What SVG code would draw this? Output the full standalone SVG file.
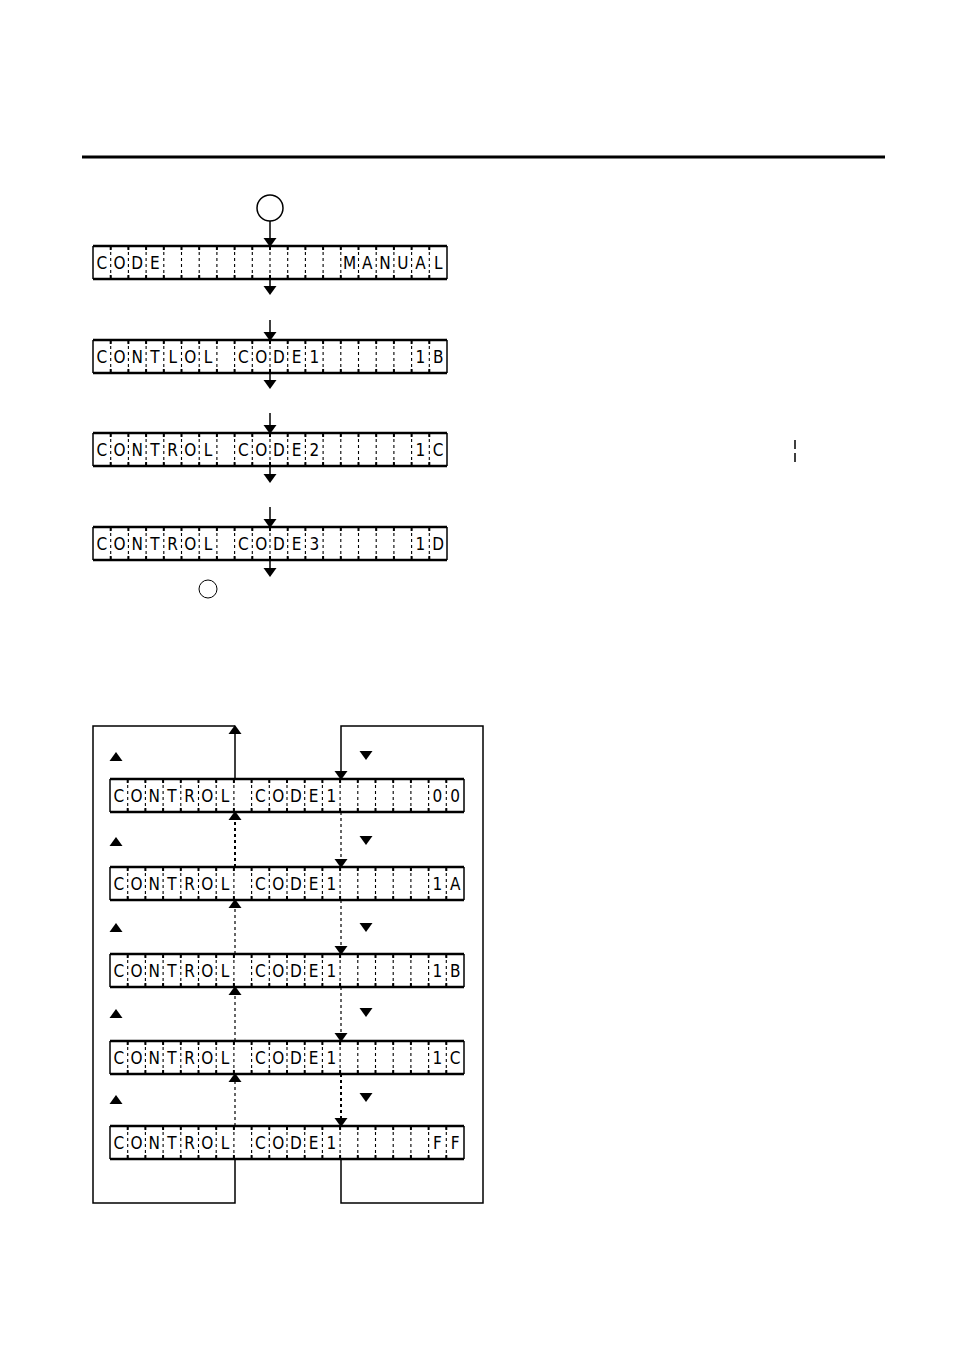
<svg xmlns="http://www.w3.org/2000/svg" width="954" height="1348" viewBox="0 0 954 1348">
<style>
.bx{fill:#fff;stroke:none}
.hb{stroke:#000;stroke-width:2.5}
.vb{stroke:#000;stroke-width:1.5}
.dv{stroke:#000;stroke-width:1.1;stroke-dasharray:3 3}
.tk{stroke:#000;stroke-width:2}
.ch{font-family:"Liberation Sans Narrow","DejaVu Sans Condensed","Liberation Sans",Arial,sans-serif;font-stretch:condensed;font-size:17px;text-anchor:middle;fill:#000}
.ln{stroke:#000;stroke-width:1.5;fill:none}
.ds{stroke:#000;stroke-width:1.2;stroke-dasharray:3 3;fill:none}
.dsb{stroke:#000;stroke-width:2;stroke-dasharray:3 3;fill:none}
.tri{fill:#000}
</style>
<defs>
<g id="grid">
<rect class="bx" x="0" y="0" width="354" height="33"/>
<g class="dv">
<line x1="17.7" y1="0" x2="17.7" y2="33"/><line x1="35.4" y1="0" x2="35.4" y2="33"/><line x1="53.1" y1="0" x2="53.1" y2="33"/><line x1="70.8" y1="0" x2="70.8" y2="33"/><line x1="88.5" y1="0" x2="88.5" y2="33"/><line x1="106.2" y1="0" x2="106.2" y2="33"/><line x1="123.9" y1="0" x2="123.9" y2="33"/><line x1="141.6" y1="0" x2="141.6" y2="33"/><line x1="159.3" y1="0" x2="159.3" y2="33"/><line x1="177" y1="0" x2="177" y2="33"/><line x1="194.7" y1="0" x2="194.7" y2="33"/><line x1="212.4" y1="0" x2="212.4" y2="33"/><line x1="230.1" y1="0" x2="230.1" y2="33"/><line x1="247.8" y1="0" x2="247.8" y2="33"/><line x1="265.5" y1="0" x2="265.5" y2="33"/><line x1="283.2" y1="0" x2="283.2" y2="33"/><line x1="300.9" y1="0" x2="300.9" y2="33"/><line x1="318.6" y1="0" x2="318.6" y2="33"/><line x1="336.3" y1="0" x2="336.3" y2="33"/>
</g>
<path class="tk" d="M17.7 0v4M35.4 0v4M53.1 0v4M70.8 0v4M88.5 0v4M106.2 0v4M123.9 0v4M141.6 0v4M159.3 0v4M177 0v4M194.7 0v4M212.4 0v4M230.1 0v4M247.8 0v4M265.5 0v4M283.2 0v4M300.9 0v4M318.6 0v4M336.3 0v4M17.7 33v-4M35.4 33v-4M53.1 33v-4M70.8 33v-4M88.5 33v-4M106.2 33v-4M123.9 33v-4M141.6 33v-4M159.3 33v-4M177 33v-4M194.7 33v-4M212.4 33v-4M230.1 33v-4M247.8 33v-4M265.5 33v-4M283.2 33v-4M300.9 33v-4M318.6 33v-4M336.3 33v-4"/>
<line class="hb" x1="0" y1="0" x2="354" y2="0"/>
<line class="hb" x1="0" y1="33" x2="354" y2="33"/>
<line class="vb" x1="0" y1="0" x2="0" y2="33"/>
<line class="vb" x1="354" y1="0" x2="354" y2="33"/>
</g>
<path id="dn" d="M-6.5 -9H6.5L0 0Z"/>
<path id="up" d="M-6.5 9H6.5L0 0Z"/>
</defs>

<line x1="82" y1="157" x2="885" y2="157" stroke="#000" stroke-width="3"/>

<g id="connectors">
<circle cx="270" cy="208" r="13" fill="none" stroke="#000" stroke-width="1.5"/>
<line class="ln" x1="270" y1="221" x2="270" y2="240"/>
<use href="#dn" class="tri" x="270" y="247"/>
<line class="ln" x1="270" y1="279" x2="270" y2="288"/>
<use href="#dn" class="tri" x="270" y="295"/>
<line class="ln" x1="270" y1="320" x2="270" y2="334"/>
<use href="#dn" class="tri" x="270" y="341"/>
<line class="ln" x1="270" y1="373" x2="270" y2="382"/>
<use href="#dn" class="tri" x="270" y="389"/>
<line class="ln" x1="270" y1="413" x2="270" y2="427"/>
<use href="#dn" class="tri" x="270" y="434"/>
<line class="ln" x1="270" y1="466" x2="270" y2="476"/>
<use href="#dn" class="tri" x="270" y="483"/>
<line class="ln" x1="270" y1="507" x2="270" y2="521"/>
<use href="#dn" class="tri" x="270" y="528"/>
<line class="ln" x1="270" y1="560" x2="270" y2="570"/>
<use href="#dn" class="tri" x="270" y="577"/>
<circle cx="208" cy="589" r="9" fill="none" stroke="#000" stroke-width="1"/>
<line x1="795" y1="440" x2="795" y2="462" stroke="#000" stroke-width="1.5" stroke-dasharray="9 4"/>

<path class="ln" d="M235 779V732M235 726H93V1203H235V1159"/>
<use href="#up" class="tri" x="235" y="725"/>
<path class="ln" d="M341 773V726H483V1203H341V1159" stroke-width="1.8"/>
<use href="#dn" class="tri" x="341" y="780"/>

<line class="dsb" x1="235" y1="867" x2="235" y2="820"/>
<use href="#up" class="tri" x="235" y="811"/>
<line class="ds" x1="341" y1="812" x2="341" y2="860"/>
<use href="#dn" class="tri" x="341" y="868"/>
<line class="ds" x1="235" y1="954" x2="235" y2="908"/>
<use href="#up" class="tri" x="235" y="899"/>
<line class="ds" x1="341" y1="900" x2="341" y2="947"/>
<use href="#dn" class="tri" x="341" y="955"/>
<line class="ds" x1="235" y1="1041" x2="235" y2="995"/>
<use href="#up" class="tri" x="235" y="986"/>
<line class="ds" x1="341" y1="987" x2="341" y2="1034"/>
<use href="#dn" class="tri" x="341" y="1042"/>
<line class="ds" x1="235" y1="1126" x2="235" y2="1082"/>
<use href="#up" class="tri" x="235" y="1073"/>
<line class="dsb" x1="341" y1="1074" x2="341" y2="1119"/>
<use href="#dn" class="tri" x="341" y="1127"/>

<use href="#up" class="tri" x="116" y="752"/>
<use href="#dn" class="tri" x="366" y="760"/>
<use href="#up" class="tri" x="116" y="837"/>
<use href="#dn" class="tri" x="366" y="845"/>
<use href="#up" class="tri" x="116" y="923"/>
<use href="#dn" class="tri" x="366" y="932"/>
<use href="#up" class="tri" x="116" y="1009"/>
<use href="#dn" class="tri" x="366" y="1017"/>
<use href="#up" class="tri" x="116" y="1095"/>
<use href="#dn" class="tri" x="366" y="1102"/>
</g>

<g id="lcd1" transform="translate(93,246)">
<use href="#grid"/>
<g class="ch"><text x="8.85" y="23">C</text><text x="26.55" y="23">O</text><text x="44.25" y="23">D</text><text x="61.95" y="23">E</text><text x="256.65" y="23">M</text><text x="274.35" y="23">A</text><text x="292.05" y="23">N</text><text x="309.75" y="23">U</text><text x="327.45" y="23">A</text><text x="345.15" y="23">L</text></g>
</g>
<g id="lcd2" transform="translate(93,340)">
<use href="#grid"/>
<g class="ch"><text x="8.85" y="23">C</text><text x="26.55" y="23">O</text><text x="44.25" y="23">N</text><text x="61.95" y="23">T</text><text x="79.65" y="23">L</text><text x="97.35" y="23">O</text><text x="115.05" y="23">L</text><text x="150.45" y="23">C</text><text x="168.15" y="23">O</text><text x="185.85" y="23">D</text><text x="203.55" y="23">E</text><text x="221.25" y="23">1</text><text x="327.45" y="23">1</text><text x="345.15" y="23">B</text></g>
</g>
<g id="lcd3" transform="translate(93,433)">
<use href="#grid"/>
<g class="ch"><text x="8.85" y="23">C</text><text x="26.55" y="23">O</text><text x="44.25" y="23">N</text><text x="61.95" y="23">T</text><text x="79.65" y="23">R</text><text x="97.35" y="23">O</text><text x="115.05" y="23">L</text><text x="150.45" y="23">C</text><text x="168.15" y="23">O</text><text x="185.85" y="23">D</text><text x="203.55" y="23">E</text><text x="221.25" y="23">2</text><text x="327.45" y="23">1</text><text x="345.15" y="23">C</text></g>
</g>
<g id="lcd4" transform="translate(93,527)">
<use href="#grid"/>
<g class="ch"><text x="8.85" y="23">C</text><text x="26.55" y="23">O</text><text x="44.25" y="23">N</text><text x="61.95" y="23">T</text><text x="79.65" y="23">R</text><text x="97.35" y="23">O</text><text x="115.05" y="23">L</text><text x="150.45" y="23">C</text><text x="168.15" y="23">O</text><text x="185.85" y="23">D</text><text x="203.55" y="23">E</text><text x="221.25" y="23">3</text><text x="327.45" y="23">1</text><text x="345.15" y="23">D</text></g>
</g>

<g id="lcd5" transform="translate(110,779)">
<use href="#grid"/>
<g class="ch"><text x="8.85" y="23">C</text><text x="26.55" y="23">O</text><text x="44.25" y="23">N</text><text x="61.95" y="23">T</text><text x="79.65" y="23">R</text><text x="97.35" y="23">O</text><text x="115.05" y="23">L</text><text x="150.45" y="23">C</text><text x="168.15" y="23">O</text><text x="185.85" y="23">D</text><text x="203.55" y="23">E</text><text x="221.25" y="23">1</text><text x="327.45" y="23">0</text><text x="345.15" y="23">0</text></g>
</g>
<g id="lcd6" transform="translate(110,867)">
<use href="#grid"/>
<g class="ch"><text x="8.85" y="23">C</text><text x="26.55" y="23">O</text><text x="44.25" y="23">N</text><text x="61.95" y="23">T</text><text x="79.65" y="23">R</text><text x="97.35" y="23">O</text><text x="115.05" y="23">L</text><text x="150.45" y="23">C</text><text x="168.15" y="23">O</text><text x="185.85" y="23">D</text><text x="203.55" y="23">E</text><text x="221.25" y="23">1</text><text x="327.45" y="23">1</text><text x="345.15" y="23">A</text></g>
</g>
<g id="lcd7" transform="translate(110,954)">
<use href="#grid"/>
<g class="ch"><text x="8.85" y="23">C</text><text x="26.55" y="23">O</text><text x="44.25" y="23">N</text><text x="61.95" y="23">T</text><text x="79.65" y="23">R</text><text x="97.35" y="23">O</text><text x="115.05" y="23">L</text><text x="150.45" y="23">C</text><text x="168.15" y="23">O</text><text x="185.85" y="23">D</text><text x="203.55" y="23">E</text><text x="221.25" y="23">1</text><text x="327.45" y="23">1</text><text x="345.15" y="23">B</text></g>
</g>
<g id="lcd8" transform="translate(110,1041)">
<use href="#grid"/>
<g class="ch"><text x="8.85" y="23">C</text><text x="26.55" y="23">O</text><text x="44.25" y="23">N</text><text x="61.95" y="23">T</text><text x="79.65" y="23">R</text><text x="97.35" y="23">O</text><text x="115.05" y="23">L</text><text x="150.45" y="23">C</text><text x="168.15" y="23">O</text><text x="185.85" y="23">D</text><text x="203.55" y="23">E</text><text x="221.25" y="23">1</text><text x="327.45" y="23">1</text><text x="345.15" y="23">C</text></g>
</g>
<g id="lcd9" transform="translate(110,1126)">
<use href="#grid"/>
<g class="ch"><text x="8.85" y="23">C</text><text x="26.55" y="23">O</text><text x="44.25" y="23">N</text><text x="61.95" y="23">T</text><text x="79.65" y="23">R</text><text x="97.35" y="23">O</text><text x="115.05" y="23">L</text><text x="150.45" y="23">C</text><text x="168.15" y="23">O</text><text x="185.85" y="23">D</text><text x="203.55" y="23">E</text><text x="221.25" y="23">1</text><text x="327.45" y="23">F</text><text x="345.15" y="23">F</text></g>
</g>
</svg>
